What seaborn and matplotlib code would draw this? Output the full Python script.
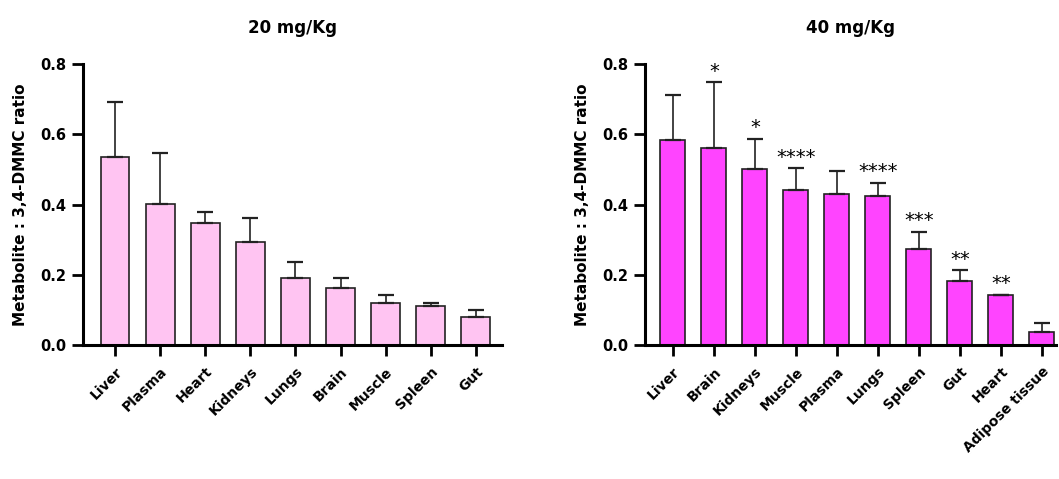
import numpy as np
import pandas as pd
import matplotlib
matplotlib.use("Agg")
import matplotlib.pyplot as plt
import seaborn as sns

# ---- data ----
tissues_20 = ["Liver", "Plasma", "Heart", "Kidneys", "Lungs", "Brain", "Muscle", "Spleen", "Gut"]
mean_20 = [0.534, 0.401, 0.348, 0.293, 0.190, 0.161, 0.121, 0.112, 0.079]
sd_20 = [0.159, 0.145, 0.030, 0.070, 0.045, 0.030, 0.022, 0.009, 0.022]

tissues_40 = ["Liver", "Brain", "Kidneys", "Muscle", "Plasma", "Lungs", "Spleen", "Gut", "Heart", "Adipose tissue"]
mean_40 = [0.585, 0.562, 0.501, 0.440, 0.431, 0.424, 0.272, 0.181, 0.143, 0.038]
sd_40 = [0.128, 0.186, 0.087, 0.063, 0.064, 0.038, 0.051, 0.032, 0.0, 0.025]
stars_40 = ["", "*", "*", "****", "", "****", "***", "**", "**", ""]

titles = ["20 mg/Kg", "40 mg/Kg"]
ylabel = "Metabolite : 3,4-DMMC ratio"
yticks = [0.0, 0.2, 0.4, 0.6, 0.8]

sns.set_style("ticks")
plt.rcParams["font.family"] = ["DejaVu Sans"]
plt.rcParams["text.color"] = "black"
plt.rcParams["axes.labelcolor"] = "black"
plt.rcParams["xtick.color"] = "black"
plt.rcParams["ytick.color"] = "black"

fig = plt.figure(figsize=(10.59, 4.79), dpi=100)
ax1 = fig.add_axes([0.0784, 0.2797, 0.3957, 0.5866])
ax2 = fig.add_axes([0.609, 0.2797, 0.388, 0.5866])


def panel(ax, names, means, sds, color, width, xlim, title, stars=None):
    df = pd.DataFrame({"tissue": names, "ratio": means})
    sns.barplot(data=df, x="tissue", y="ratio", order=names, color=color,
                saturation=1, width=width, edgecolor="#222222", linewidth=1.2,
                errorbar=None, ax=ax)
    xs = np.arange(len(names))
    ax.errorbar(xs, means, yerr=[np.zeros(len(sds)), sds], fmt="none",
                ecolor="#222222", elinewidth=1.2, capsize=5.5, capthick=1.6)
    if stars is not None:
        for x, m, s, st in zip(xs, means, sds, stars):
            if st:
                ax.annotate(st, (x, m + s), xytext=(0, 1), textcoords="offset points",
                            ha="center", va="bottom", fontsize=14, color="black")
    ax.set_xlim(*xlim)
    ax.set_ylim(0, 0.8)
    ax.set_yticks(yticks)
    ax.set_yticklabels([f"{v:.1f}" for v in yticks], fontsize=10.5, fontweight="bold")
    ax.set_xticks(xs)
    ax.set_xticklabels(names, rotation=45, ha="right", rotation_mode="anchor",
                       fontsize=10, fontweight="bold")
    ax.set_xlabel("")
    ax.set_ylabel(ylabel, fontsize=11, fontweight="bold", labelpad=9)
    ax.set_title(title, fontsize=12, fontweight="bold", pad=22, color="black")
    for sp in ["top", "right"]:
        ax.spines[sp].set_visible(False)
    for sp in ["left", "bottom"]:
        ax.spines[sp].set_linewidth(2.2)
        ax.spines[sp].set_color("black")
    ax.tick_params(axis="both", length=8, width=2, color="black", labelcolor="black", pad=4)
    ax.tick_params(axis="x", pad=6)


panel(ax1, tissues_20, mean_20, sd_20, "#FFC4F2", 0.64, (-0.71, 8.58), titles[0])
panel(ax2, tissues_40, mean_40, sd_40, "#FF44FF", 0.61, (-0.68, 9.34), titles[1], stars_40)

fig.savefig("out.png", dpi=100)
